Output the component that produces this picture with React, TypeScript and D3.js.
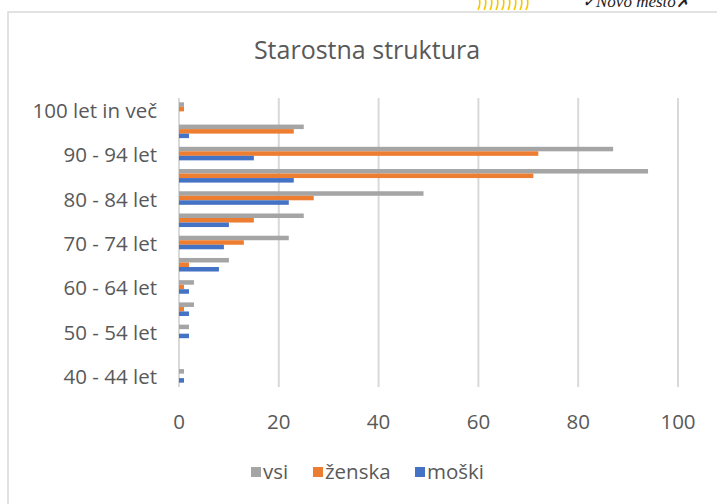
import React from "react";
import * as d3 from "d3";

// age groups, bottom to top
const categories = [
  "40 - 44 let",
  "45 - 49 let",
  "50 - 54 let",
  "55 - 59 let",
  "60 - 64 let",
  "65 - 69 let",
  "70 - 74 let",
  "75 - 79 let",
  "80 - 84 let",
  "85 - 89 let",
  "90 - 94 let",
  "95 - 99 let",
  "100 let in več",
];
const vsi = [1, 0, 2, 3, 3, 10, 22, 25, 49, 94, 87, 25, 1];
const zenska = [0, 0, 0, 1, 1, 2, 13, 15, 27, 71, 72, 23, 1];
const moski = [1, 0, 2, 2, 2, 8, 9, 10, 22, 23, 15, 2, 0];
const xTicks = [0, 20, 40, 60, 80, 100];

const seriesNames = ["vsi", "ženska", "moški"];
const seriesColors = ["#a5a5a5", "#ed7d31", "#4472c4"];

const W = 717;
const H = 504;
const font = "'Open Sans', sans-serif";
const textColor = "#595959";

export default function App() {
  const series = [vsi, zenska, moski];

  const x = d3.scaleLinear().domain([0, 100]).range([179, 678]);
  // reversed so the first category sits at the bottom
  const y = d3
    .scaleBand()
    .domain(categories.slice().reverse())
    .range([98, 387])
    .paddingInner(0.39)
    .paddingOuter(0.195);
  const inner = d3
    .scaleBand()
    .domain(seriesNames)
    .range([0, y.bandwidth()]);

  const legendX = [251, 313, 415];

  return (
    <svg
      width={W}
      height={H}
      style={{ position: "absolute", left: 0, top: 0, background: "#fff" }}
    >
      {/* logo scrap at top right */}
      <g>
        {d3.range(9).map((i) => (
          <path
            key={i}
            d={`M${478 + i * 6},10 q3,-6 1,-12`}
            stroke="#f7c600"
            strokeWidth={1.6}
            fill="none"
          />
        ))}
        <text
          x={582}
          y={7}
          fontFamily="'Liberation Serif', serif"
          fontStyle="italic"
          fontSize={17}
          fill="#222"
        >
          ✓Novo mesto✗
        </text>
      </g>

      {/* chart frame */}
      <rect
        x={8}
        y={12}
        width={W + 20}
        height={H}
        fill="#fff"
        stroke="#d9d9d9"
        strokeWidth={1.5}
      />

      <text
        x={367}
        y={59}
        textAnchor="middle"
        fontFamily={font}
        fontSize={25}
        fill={textColor}
      >
        Starostna struktura
      </text>

      {/* gridlines */}
      {xTicks.map((t) => (
        <line
          key={t}
          x1={x(t)}
          x2={x(t)}
          y1={98}
          y2={387}
          stroke="#d9d9d9"
          strokeWidth={2}
        />
      ))}

      {/* bars */}
      {categories.map((c, i) => (
        <g key={c} transform={`translate(0,${y(c)})`}>
          {series.map((s, j) =>
            s[i] > 0 ? (
              <rect
                key={j}
                x={x(0)}
                y={inner(seriesNames[j])}
                width={x(s[i]) - x(0)}
                height={inner.bandwidth()}
                fill={seriesColors[j]}
              />
            ) : null
          )}
        </g>
      ))}

      {/* category labels, every other one */}
      {categories.map((c, i) =>
        i % 2 === 0 ? (
          <text
            key={c}
            x={157}
            y={(y(c) as number) + y.bandwidth() / 2 + 3}
            textAnchor="end"
            dominantBaseline="middle"
            fontFamily={font}
            fontSize={20.5}
            fill={textColor}
          >
            {c}
          </text>
        ) : null
      )}

      {/* x tick labels */}
      {xTicks.map((t) => (
        <text
          key={t}
          x={x(t)}
          y={429}
          textAnchor="middle"
          fontFamily={font}
          fontSize={20.5}
          fill={textColor}
        >
          {t}
        </text>
      ))}

      {/* legend */}
      {seriesNames.map((n, j) => (
        <g key={n}>
          <rect
            x={legendX[j]}
            y={467}
            width={10}
            height={10}
            fill={seriesColors[j]}
          />
          <text
            x={legendX[j] + 12}
            y={479}
            fontFamily={font}
            fontSize={20.5}
            fill={textColor}
          >
            {n}
          </text>
        </g>
      ))}
    </svg>
  );
}
